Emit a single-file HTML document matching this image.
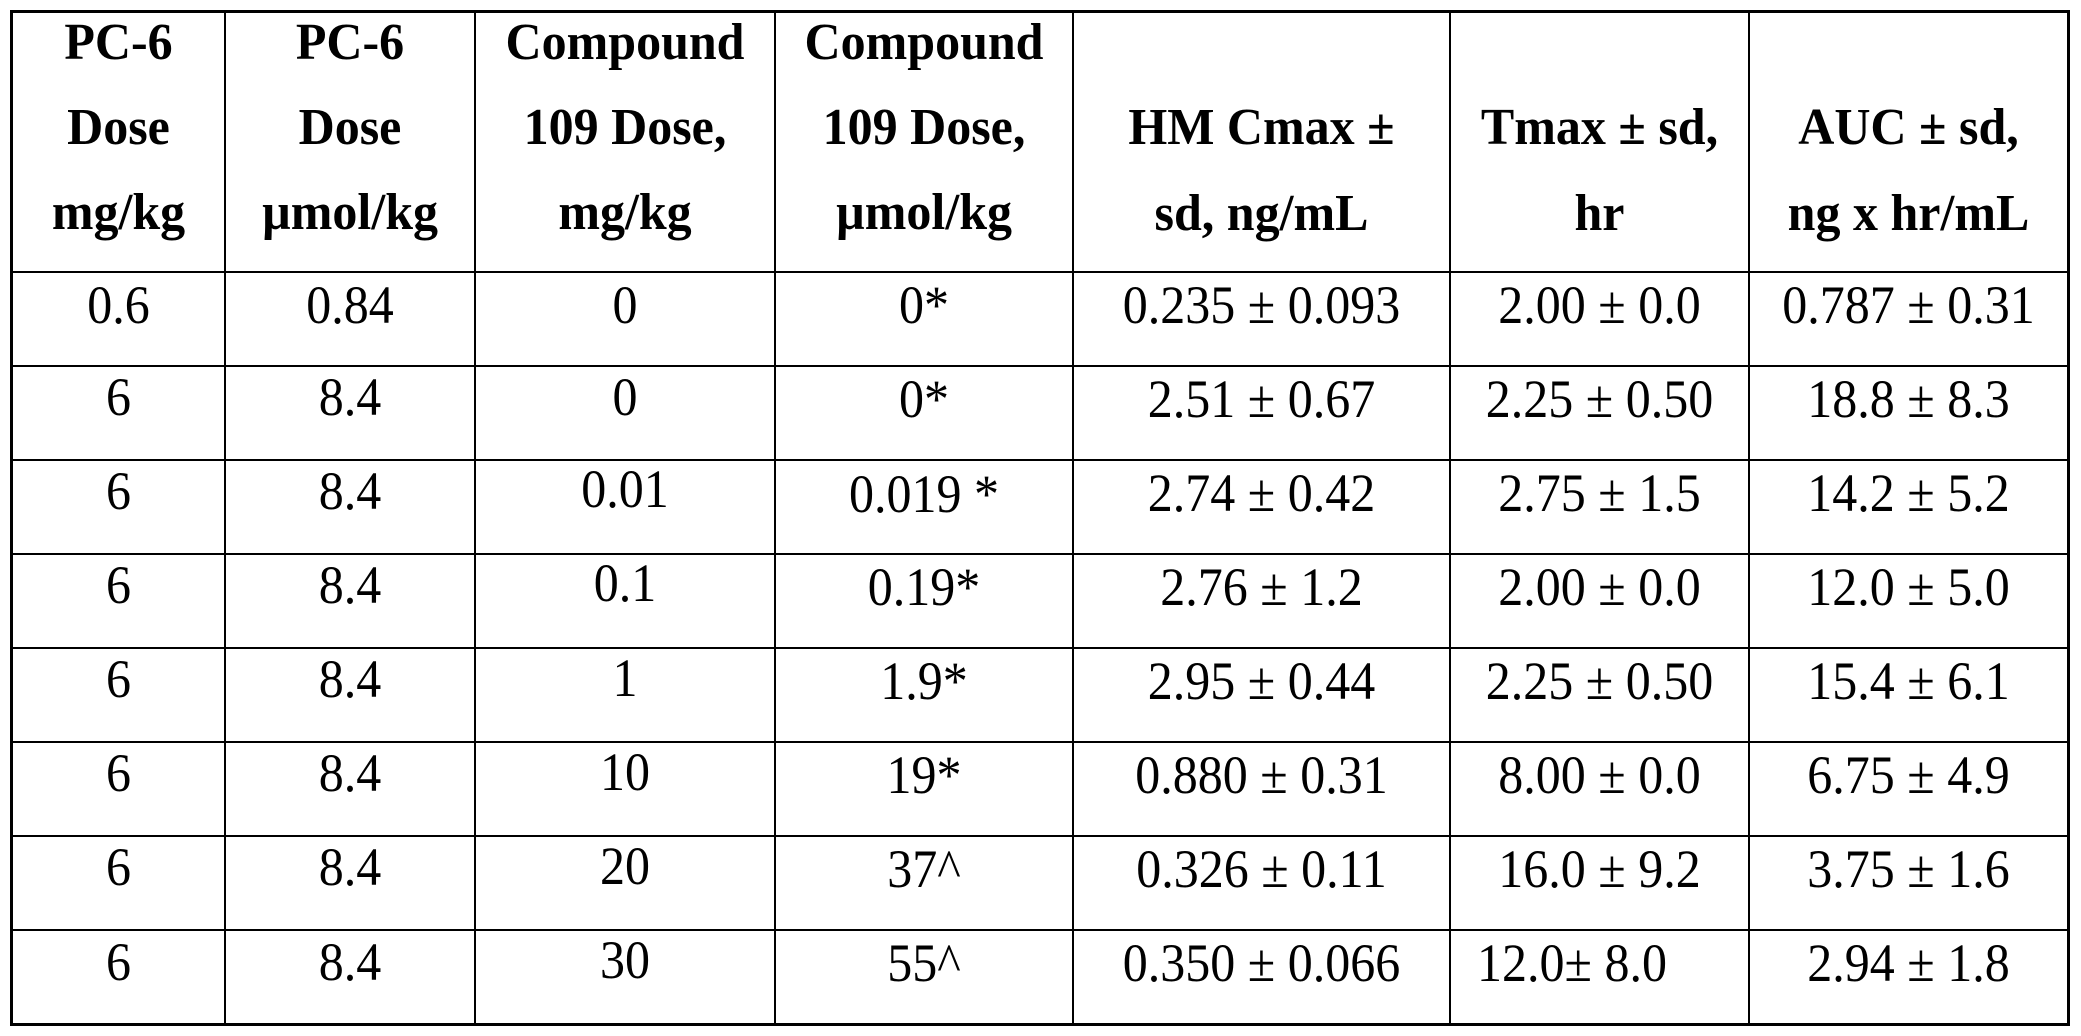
<!DOCTYPE html>
<html>
<head>
<meta charset="utf-8">
<style>
  html, body { margin:0; padding:0; background:#fff; }
  body { width:2081px; height:1036px; position:relative; overflow:hidden; }
  .l { position:absolute; background:#000; }
  .t { position:absolute; font-family:"Liberation Serif", "Times New Roman", serif; font-size:50px; line-height:50px; height:50px; text-align:center; color:#000; white-space:pre; transform:scaleY(1.08); transform-origin:50% 42px; }
  .b { font-weight:bold; transform:scaleY(1.03); }
</style>
</head>
<body>
<!-- outer border -->
<div class="l" style="left:10px;top:10px;width:3px;height:1016px;"></div>
<div class="l" style="left:2067px;top:10px;width:3px;height:1016px;"></div>
<div class="l" style="left:10px;top:10px;width:2060px;height:3px;"></div>
<div class="l" style="left:10px;top:1023px;width:2060px;height:3px;"></div>
<!-- vertical inner lines -->
<div class="l" style="left:224px;top:10px;width:2px;height:1016px;"></div>
<div class="l" style="left:474px;top:10px;width:2px;height:1016px;"></div>
<div class="l" style="left:774px;top:10px;width:2px;height:1016px;"></div>
<div class="l" style="left:1072px;top:10px;width:2px;height:1016px;"></div>
<div class="l" style="left:1449px;top:10px;width:2px;height:1016px;"></div>
<div class="l" style="left:1748px;top:10px;width:2px;height:1016px;"></div>
<!-- horizontal inner lines -->
<div class="l" style="left:10px;top:271px;width:2060px;height:2px;"></div>
<div class="l" style="left:10px;top:365px;width:2060px;height:2px;"></div>
<div class="l" style="left:10px;top:459px;width:2060px;height:2px;"></div>
<div class="l" style="left:10px;top:553px;width:2060px;height:2px;"></div>
<div class="l" style="left:10px;top:647px;width:2060px;height:2px;"></div>
<div class="l" style="left:10px;top:741px;width:2060px;height:2px;"></div>
<div class="l" style="left:10px;top:835px;width:2060px;height:2px;"></div>
<div class="l" style="left:10px;top:929px;width:2060px;height:2px;"></div>

<!-- headers -->
<div class="t b" style="left:12px;width:213px;top:17px;">PC-6</div>
<div class="t b" style="left:12px;width:213px;top:102px;">Dose</div>
<div class="t b" style="left:12px;width:213px;top:187px;">mg/kg</div>

<div class="t b" style="left:225px;width:250px;top:17px;">PC-6</div>
<div class="t b" style="left:225px;width:250px;top:102px;">Dose</div>
<div class="t b" style="left:225px;width:250px;top:187px;">µmol/kg</div>

<div class="t b" style="left:475px;width:300px;top:17px;">Compound</div>
<div class="t b" style="left:475px;width:300px;top:102px;">109 Dose,</div>
<div class="t b" style="left:475px;width:300px;top:187px;">mg/kg</div>

<div class="t b" style="left:775px;width:298px;top:17px;">Compound</div>
<div class="t b" style="left:775px;width:298px;top:102px;">109 Dose,</div>
<div class="t b" style="left:775px;width:298px;top:187px;">µmol/kg</div>

<div class="t b" style="left:1073px;width:377px;top:102px;">HM Cmax ±</div>
<div class="t b" style="left:1073px;width:377px;top:188px;">sd, ng/mL</div>

<div class="t b" style="left:1450px;width:299px;top:102px;">Tmax ± sd,</div>
<div class="t b" style="left:1450px;width:299px;top:188px;">hr</div>

<div class="t b" style="left:1749px;width:319px;top:102px;">AUC ± sd,</div>
<div class="t b" style="left:1749px;width:319px;top:188px;">ng x hr/mL</div>

<!-- row 1 (top line 272) -->
<div class="t" style="left:12px;width:213px;top:281px;">0.6</div>
<div class="t" style="left:225px;width:250px;top:281px;">0.84</div>
<div class="t" style="left:475px;width:300px;top:281px;">0</div>
<div class="t" style="left:775px;width:298px;top:281px;">0*</div>
<div class="t" style="left:1073px;width:377px;top:281px;">0.235 ± 0.093</div>
<div class="t" style="left:1450px;width:299px;top:281px;">2.00 ± 0.0</div>
<div class="t" style="left:1749px;width:319px;top:281px;">0.787 ± 0.31</div>

<!-- row 2 (366) -->
<div class="t" style="left:12px;width:213px;top:373px;">6</div>
<div class="t" style="left:225px;width:250px;top:373px;">8.4</div>
<div class="t" style="left:475px;width:300px;top:373px;">0</div>
<div class="t" style="left:775px;width:298px;top:375px;">0*</div>
<div class="t" style="left:1073px;width:377px;top:375px;">2.51 ± 0.67</div>
<div class="t" style="left:1450px;width:299px;top:375px;">2.25 ± 0.50</div>
<div class="t" style="left:1749px;width:319px;top:375px;">18.8 ± 8.3</div>

<!-- row 3 (460) -->
<div class="t" style="left:12px;width:213px;top:467px;">6</div>
<div class="t" style="left:225px;width:250px;top:467px;">8.4</div>
<div class="t" style="left:475px;width:300px;top:465px;">0.01</div>
<div class="t" style="left:775px;width:298px;top:470px;">0.019 *</div>
<div class="t" style="left:1073px;width:377px;top:469px;">2.74 ± 0.42</div>
<div class="t" style="left:1450px;width:299px;top:469px;">2.75 ± 1.5</div>
<div class="t" style="left:1749px;width:319px;top:469px;">14.2 ± 5.2</div>

<!-- row 4 (554) -->
<div class="t" style="left:12px;width:213px;top:561px;">6</div>
<div class="t" style="left:225px;width:250px;top:561px;">8.4</div>
<div class="t" style="left:475px;width:300px;top:559px;">0.1</div>
<div class="t" style="left:775px;width:298px;top:563px;">0.19*</div>
<div class="t" style="left:1073px;width:377px;top:563px;">2.76 ± 1.2</div>
<div class="t" style="left:1450px;width:299px;top:563px;">2.00 ± 0.0</div>
<div class="t" style="left:1749px;width:319px;top:563px;">12.0 ± 5.0</div>

<!-- row 5 (648) -->
<div class="t" style="left:12px;width:213px;top:655px;">6</div>
<div class="t" style="left:225px;width:250px;top:655px;">8.4</div>
<div class="t" style="left:475px;width:300px;top:654px;">1</div>
<div class="t" style="left:775px;width:298px;top:657px;">1.9*</div>
<div class="t" style="left:1073px;width:377px;top:657px;">2.95 ± 0.44</div>
<div class="t" style="left:1450px;width:299px;top:657px;">2.25 ± 0.50</div>
<div class="t" style="left:1749px;width:319px;top:657px;">15.4 ± 6.1</div>

<!-- row 6 (742) -->
<div class="t" style="left:12px;width:213px;top:749px;">6</div>
<div class="t" style="left:225px;width:250px;top:749px;">8.4</div>
<div class="t" style="left:475px;width:300px;top:748px;">10</div>
<div class="t" style="left:775px;width:298px;top:751px;">19*</div>
<div class="t" style="left:1073px;width:377px;top:751px;">0.880 ± 0.31</div>
<div class="t" style="left:1450px;width:299px;top:751px;">8.00 ± 0.0</div>
<div class="t" style="left:1749px;width:319px;top:751px;">6.75 ± 4.9</div>

<!-- row 7 (836) -->
<div class="t" style="left:12px;width:213px;top:843px;">6</div>
<div class="t" style="left:225px;width:250px;top:843px;">8.4</div>
<div class="t" style="left:475px;width:300px;top:842px;">20</div>
<div class="t" style="left:775px;width:298px;top:845px;">37^</div>
<div class="t" style="left:1073px;width:377px;top:845px;">0.326 ± 0.11</div>
<div class="t" style="left:1450px;width:299px;top:845px;">16.0 ± 9.2</div>
<div class="t" style="left:1749px;width:319px;top:845px;">3.75 ± 1.6</div>

<!-- row 8 (930) -->
<div class="t" style="left:12px;width:213px;top:938px;">6</div>
<div class="t" style="left:225px;width:250px;top:938px;">8.4</div>
<div class="t" style="left:475px;width:300px;top:936px;">30</div>
<div class="t" style="left:775px;width:298px;top:939px;">55^</div>
<div class="t" style="left:1073px;width:377px;top:939px;">0.350 ± 0.066</div>
<div class="t" style="left:1477px;top:939px;text-align:left;">12.0± 8.0</div>
<div class="t" style="left:1749px;width:319px;top:939px;">2.94 ± 1.8</div>
</body>
</html>
